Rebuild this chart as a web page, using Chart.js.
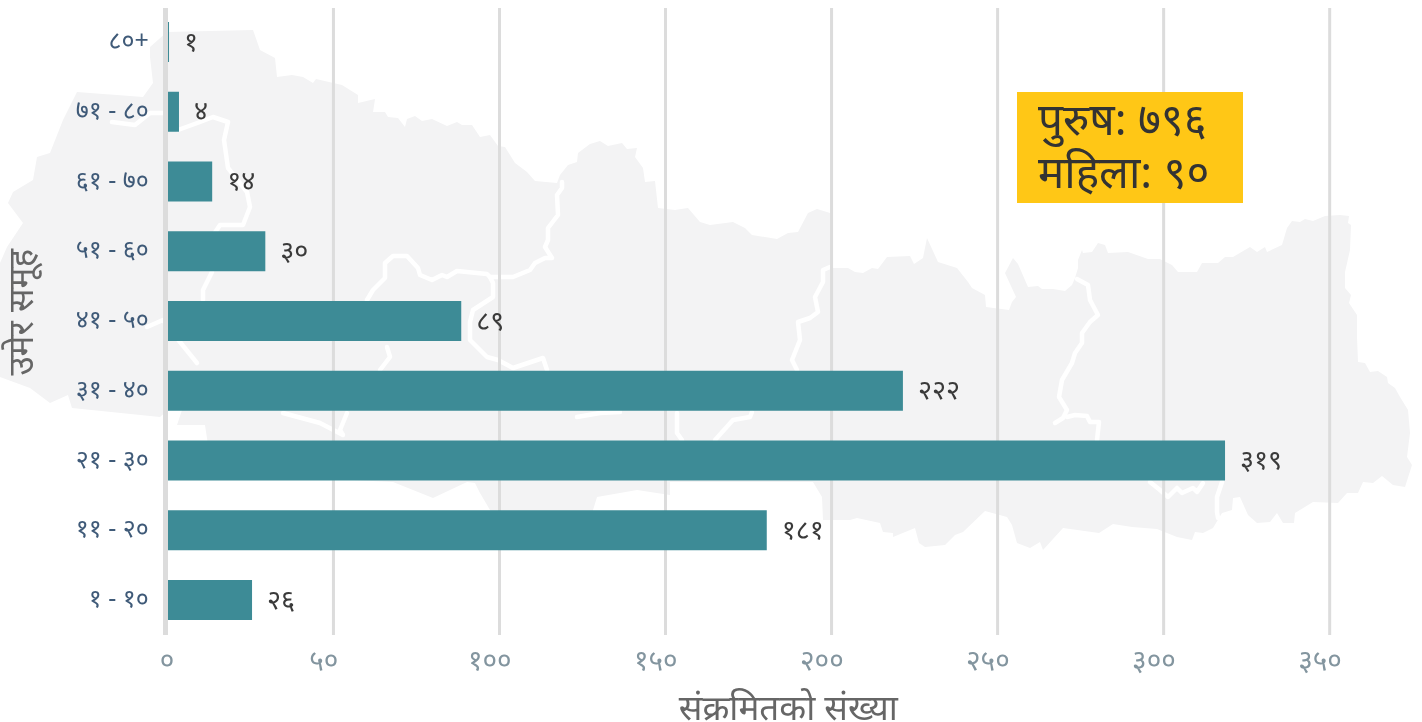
<!DOCTYPE html>
<html>
<head>
<meta charset="utf-8">
<style>
html, body { margin: 0; padding: 0; background: #fff; }
.w { position: relative; width: 1422px; height: 722px; overflow: hidden; }
#map { position: absolute; left: 0; top: 0; }
#c { position: absolute; left: 0; top: 0; }
#map polyline { fill: none; stroke: #fff; stroke-width: 4.5; stroke-linejoin: round; stroke-linecap: round; }
.box {
	position: absolute; left: 1017px; top: 92px; width: 205px; height: 111px; padding-left: 21px;
	background: #ffc716; color: #333; font: 44px/53px "Noto Sans"; white-space: nowrap;
}
</style>
<script src="https://cdn.jsdelivr.net/npm/chart.js@4"></script>
</head>
<body>
<div class="w">
	<!-- background map, traced by hand -->
	<svg id="map" width="1422" height="722">
		<polygon fill="#f3f3f4" points="150,47 167,32 253,30 260,50 275,58 277,77 292,75 303,77 313,83 316,79 342,85 358,95 358,103 375,99 373,112 385,112 388,117 398,118 405,127 407,119 415,116 422,121 432,119 447,126 457,122 462,125 472,125 480,137 490,135 498,146 505,147 515,163 527,172 535,181 557,183 560,175 568,165 577,162 578,153 590,144 600,141 608,146 622,143 627,149 637,148 635,157 643,168 645,182 655,181 658,208 675,210 688,208 700,222 710,225 733,222 745,228 752,235 777,239 788,233 798,232 808,213 817,209 830,213 830,268 848,268 855,272 863,273 872,268 878,269 887,257 910,256 914,264 923,258 927,238 938,262 957,268 968,282 972,288 985,295 986,307 1009,310 1012,302 1016,297 1005,273 1013,258 1018,264 1028,287 1038,286 1042,289 1053,289 1065,291 1072,285 1075,278 1078,268 1078,260 1082,250 1083,253 1092,252 1098,243 1105,245 1108,253 1128,252 1148,259 1160,259 1172,265 1178,272 1197,272 1202,263 1218,263 1225,257 1233,257 1250,247 1257,252 1265,247 1267,252 1282,245 1287,228 1292,221 1300,222 1305,219 1313,221 1325,216 1340,215 1349,216 1348,223 1351,225 1350,250 1345,272 1345,288 1351,295 1349,303 1357,315 1357,337 1358,362 1365,363 1370,372 1378,371 1387,377 1388,383 1395,388 1400,397 1408,410 1410,433 1407,457 1412,465 1405,487 1393,485 1382,476 1373,483 1363,482 1358,493 1347,493 1338,503 1313,502 1295,513 1294,523 1283,523 1277,513 1270,522 1257,523 1248,515 1240,497 1233,498 1232,510 1222,513 1213,528 1203,533 1195,532 1192,540 1177,537 1157,529 1132,527 1113,524 1099,533 1063,528 1043,550 1040,542 1030,548 1017,543 1012,525 1007,517 985,511 963,532 955,535 945,545 925,547 919,543 915,528 893,537 893,533 883,532 880,523 857,518 850,520 823,520 822,497 813,482 670,482 670,495 637,490 597,497 593,510 593,530 495,530 490,510 480,493 475,483 467,482 433,498 393,482 310,478 208,445 205,425 177,425 182,410 168,410 160,417 72,408 68,395 50,403 30,388 0,377 0,263 7,247 23,223 8,203 13,192 33,180 37,157 50,153 63,120 77,92 143,97 153,83 150,57"/>
		<polyline points="112,122 135,125 150,113 165,113 178,130 200,122 213,117 228,122 224,140 228,168 247,192 250,207 243,225 220,225 210,240 212,272 203,290 203,300"/>
		<polyline points="147,327 163,320 180,342 197,363"/>
		<polyline points="387,347 390,357 380,370"/>
		<polyline points="283,413 320,423 343,435 340,430 347,413"/>
		<polyline points="367,300 373,290 385,278 385,263 393,256 407,256 418,268 420,275 432,280 442,275 447,277 457,271 487,274 490,277 513,277 530,270 535,263 545,258 552,258 545,247 548,240 548,228 558,215 557,195 562,188 562,182"/>
		<polyline points="490,277 493,283 493,297 473,310 470,322 470,340 487,357 498,360 513,368 543,358 547,370"/>
		<polyline points="577,417 600,413 620,412"/>
		<polyline points="677,413 677,433 682,440"/>
		<polyline points="715,440 733,420 750,417 752,412"/>
		<polyline points="797,370 792,360 800,340 798,322 810,318 818,312 815,297 823,282 823,270 830,267"/>
		<polyline points="1077,279 1088,285 1090,300 1098,315 1090,322 1082,333 1082,343 1075,353 1072,363 1062,380 1059,397 1067,410 1063,418 1055,423"/>
		<polyline points="1067,417 1075,415 1087,416 1090,422 1099,422 1097,440"/>
		<polyline points="1150,482 1160,490 1168,497 1177,488 1182,493 1193,488 1197,492 1203,483"/>
		<polyline points="1222,482 1217,497 1217,512 1218,518"/>
	</svg>
	<canvas id="c" width="1422" height="722"></canvas>
	<div class="box">पुरुष: ७९६<br>महिला: ९०</div>
</div>
<script>
const ageGroups = ['८०+', '७१ - ८०', '६१ - ७०', '५१ - ६०', '४१ - ५०', '३१ - ४०', '२१ - ३०', '११ - २०', '१ - १०'];
const cases = [1, 4, 14, 30, 89, 222, 319, 181, 26];
const caseLabels = ['१', '४', '१४', '३०', '८९', '२२२', '३१९', '१८१', '२६'];
const xTicks = ['\u2002\u2009०', '५०', '१००', '१५०', '२००', '२५०', '३००', '३५०'];

const fontName = 'Noto Sans';

// grid sits a little right of the bar origin in the original, so it is drawn here
const gridLines = {
	id: 'gridLines',
	beforeDatasetsDraw(chart) {
		const { ctx, chartArea, scales } = chart;
		ctx.save();
		ctx.fillStyle = '#dcdcdc';
		scales.x.ticks.forEach((t) => {
			if (t.value > 0) {
				ctx.fillRect(scales.x.getPixelForValue(t.value) + 0.2, chartArea.top + 1, 3, chartArea.height - 1);
			}
		});
		ctx.restore();
	},
	afterDatasetsDraw(chart) {
		const { ctx, chartArea, scales } = chart;
		const zero = scales.x.getPixelForValue(0);
		ctx.save();
		ctx.fillStyle = '#dcdcdc';
		ctx.fillRect(zero - 2.7, chartArea.top + 1, 5, chartArea.height - 1);
		// value next to each bar
		ctx.fillStyle = '#3a3a3a';
		ctx.font = '27px "' + fontName + '"';
		ctx.textBaseline = 'middle';
		chart.getDatasetMeta(0).data.forEach((bar, i) => {
			ctx.fillText(caseLabels[i], bar.x + 15, bar.y + 1);
		});
		ctx.restore();
	},
};

new Chart(document.querySelector('#c'), {
	type: 'bar',
	data: {
		labels: ageGroups,
		datasets: [{ data: cases, backgroundColor: '#3d8b96', barPercentage: 0.573, categoryPercentage: 1 }],
	},
	options: {
		indexAxis: 'y',
		responsive: false,
		animation: false,
		layout: { padding: { top: 7, right: 11 } },
		plugins: { legend: { display: false }, tooltip: { enabled: false } },
		scales: {
			x: {
				min: 0,
				max: 375,
				border: { display: false },
				grid: { display: false },
				afterFit: (s) => { s.height = 87; },
				afterBuildTicks: (s) => { s.ticks = s.ticks.filter((t) => t.value <= 350); },
				ticks: {
					stepSize: 50,
					maxRotation: 0,
					padding: 2,
					labelOffset: -8,
					color: '#83959f',
					font: { size: 28, family: fontName },
					callback: (v, i) => xTicks[i],
				},
				title: { display: true, text: 'संक्रमितको संख्या', color: '#666', padding: { top: 0, bottom: -9 }, font: { size: 35, family: fontName } },
			},
			y: {
				border: { display: false },
				grid: { display: false },
				afterFit: (s) => { s.width = 165.7; s.paddingTop = 0; s.paddingBottom = 0; },
				ticks: { padding: 9, color: '#3f5a78', font: { size: 25, family: fontName } },
				title: { display: true, text: '\u2002उमेर समूह', color: '#666', padding: { top: 2, bottom: 0 }, font: { size: 35, family: fontName } },
			},
		},
	},
	plugins: [gridLines],
});
</script>
</body>
</html>
